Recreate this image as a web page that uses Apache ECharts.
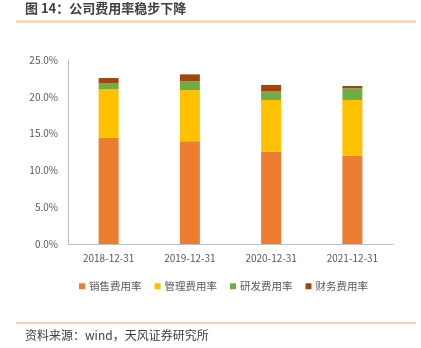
<!DOCTYPE html>
<html>
<head>
<meta charset="utf-8">
<script src="https://cdn.jsdelivr.net/npm/echarts@6/dist/echarts.min.js"></script>
<style>
  html, body { margin: 0; padding: 0; background: #fff; }
  #chart { width: 421px; height: 348px; }
</style>
</head>
<body>
<div id="chart"></div>
<script>
// Expense ratios by year (%)
const categories = ['2018-12-31', '2019-12-31', '2020-12-31', '2021-12-31'];
const salesRatio = [14.44, 13.95, 12.55, 12.00];
const adminRatio = [6.62, 6.97, 7.02, 7.57];
const rdRatio = [0.81, 1.22, 1.22, 1.58];
const financeRatio = [0.68, 0.91, 0.82, 0.32];
const seriesNames = ['销售费用率', '管理费用率', '研发费用率', '财务费用率'];
const seriesColors = ['#ED7D31', '#FFC000', '#70AD47', '#9E480E'];
const seriesData = [salesRatio, adminRatio, rdRatio, financeRatio];

const chart = echarts.init(document.getElementById('chart'), null, { renderer: 'canvas' });
const font = '"Noto Sans CJK SC", "Noto Sans", sans-serif';

chart.setOption({
  animation: false,
  textStyle: { fontFamily: font },
  graphic: [
    { type: 'text', left: 25, top: 2, style: { text: '图 14：公司费用率稳步下降', font: 'bold 13px ' + font, fill: '#404040' } },
    { type: 'rect', shape: { x: 16, y: 20.5, width: 400, height: 2 }, style: { fill: '#F8C9A0' } },
    { type: 'rect', shape: { x: 16, y: 322.5, width: 400, height: 1 }, style: { fill: '#F0A070' } },
    { type: 'text', left: 25, top: 329, style: { text: '资料来源：wind，天风证券研究所', font: '12px ' + font, fill: '#404040' } }
  ],
  grid: { left: 68, right: 28, top: 60, bottom: 104 },
  legend: {
    top: 276, left: 74,
    itemWidth: 6, itemHeight: 6, itemGap: 13,
    icon: 'rect',
    textStyle: { fontSize: 10.5, color: '#595959', padding: [0, 0, 0, -1] },
    data: seriesNames
  },
  xAxis: {
    type: 'category',
    data: categories,
    axisLine: { lineStyle: { color: '#BFBFBF' } },
    axisTick: { show: false },
    axisLabel: { color: '#595959', fontSize: 10, margin: 9 }
  },
  yAxis: {
    type: 'value',
    min: 0, max: 25, interval: 5,
    axisLine: { show: true, lineStyle: { color: '#BFBFBF' } },
    axisTick: { show: false },
    splitLine: { show: false },
    axisLabel: { color: '#595959', fontSize: 10, margin: 10, formatter: v => v.toFixed(1) + '%' }
  },
  series: seriesNames.map((name, i) => ({
    name,
    type: 'bar',
    stack: 'total',
    barWidth: 20,
    itemStyle: { color: seriesColors[i] },
    data: seriesData[i]
  }))
});
</script>
</body>
</html>
